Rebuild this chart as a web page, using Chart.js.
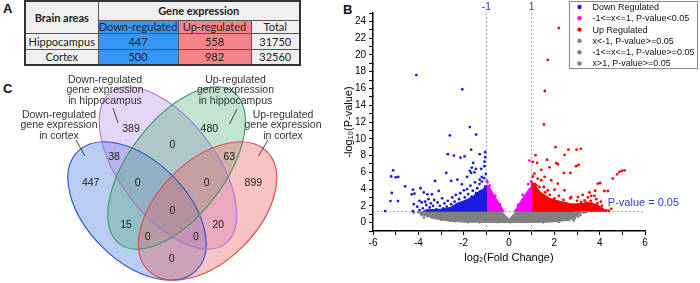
<!DOCTYPE html>
<html>
<head>
<meta charset="utf-8">
<script src="https://cdn.jsdelivr.net/npm/chart.js@4.4.1/dist/chart.umd.min.js"></script>
<style>
  html, body { margin:0; padding:0; background:#ffffff; }
  body { width:700px; height:283px; position:relative; overflow:hidden; font-family:'Liberation Sans', Arial, sans-serif; }
  .plabel { position:absolute; font-weight:bold; font-size:13px; color:#111; line-height:13px; }
  #tableA { position:absolute; left:24px; top:0px; width:275px; height:64px; border-collapse:collapse; table-layout:fixed;
            font-family:Lato,'Open Sans',sans-serif; font-size:11px; color:#222; border:2px solid #333; }
  #tableA td { border:1px solid #555; text-align:center; vertical-align:middle; padding:0; background:#efefef;
               line-height:11px; white-space:nowrap; overflow:hidden; }
  #tableA td.hd { font-weight:bold; }
  #tableA td.down { background:#3797f5; }
  #tableA td.up { background:#f48587; }
  #wrapB { position:absolute; left:330px; top:0; width:370px; height:283px; }
  #wrapC { position:absolute; left:0; top:66px; width:330px; height:217px; }
</style>
</head>
<body>
<div class="plabel" style="left:3px;top:2px;">A</div>
<div class="plabel" style="left:343px;top:3px;">B</div>
<div class="plabel" style="left:3px;top:82px;">C</div>
<table id="tableA"></table>
<div id="wrapC"><canvas id="venn" width="330" height="217"></canvas></div>
<div id="wrapB"><canvas id="volcano" width="370" height="283"></canvas></div>
<script>
// ================= DATA =================
// ---- Panel A (table) ----
const tableHeaders = ['Brain areas', 'Gene expression', 'Down-regulated', 'Up-regulated', 'Total'];
const brainAreas = ['Hippocampus', 'Cortex'];
const downRegulatedCounts = [447, 500];
const upRegulatedCounts = [558, 982];
const totalGeneCounts = [31750, 32560];

// ---- Panel B (volcano) ----
const xTickLabels = [-6, -4, -2, 0, 2, 4, 6];
const yTickLabels = [0, 2, 4, 6, 8, 10, 12, 14, 16, 18, 20, 22, 24];
const foldChangeThresholds = [-1, 1];
const pValueThreshold = 1.3;          // -log10(0.05)
const pValueLabel = 'P-value = 0.05';

const legendLabels = ['Down Regulated', '-1<=x<=1, P-value<0.05', 'Up Regulated',
                      'x<-1, P-value>=0.05', '-1<=x<=1, P-value>=0.05', 'x>1, P-value>=0.05'];

const downRegulatedPoints = [
  [-4.09,17.6],[-2.06,15.9],[-1.73,11.4],[-2.61,10.4],[-1.45,10.5],[-1.67,8.7],
  [-2.70,8.16],[-2.43,8.0],[-2.14,7.76],[-1.96,7.9],[-1.29,8.16],[-1.05,8.4],[-1.05,7.8],
  [-5.11,6.24],[-5.2,5.5],[-5.0,5.4],[-4.89,5.45],[-5.17,3.53],[-5.23,2.57],[-4.9,2.57],[-5.46,1.38],
  [-4.58,4.33],[-4.23,3.93],[-4.17,3.45],[-4.29,3.37],[-3.9,4.1],[-3.76,3.6],[-3.6,3.37],[-3.4,3.37],
  [-3.26,4.97],[-3.1,3.78],[-2.77,5.93],[-2.55,4.97],[-2.28,5.13],[-2.08,4.57],[-1.99,3.85],[-1.85,5.45],
  [-1.73,6.16],[-1.64,6.56],[-1.58,7.12],[-1.67,5.93],[-1.52,6.0],[-1.46,6.4],[-1.23,6.4],[-1.2,5.45],
  [-1.29,5.13],[-1.08,7.28],[-1.08,6.72],
  [-4.2,2.2],[-4.05,1.9],[-3.95,2.6],[-3.85,2.4],[-3.8,1.7],[-3.7,2.5],[-3.65,2.1],[-3.55,2.8],[-3.5,1.8],
  [-3.45,2.3],[-3.35,2.0],[-3.3,2.7],[-3.2,1.6],[-3.15,2.4],[-3.05,2.0],[-2.95,2.9],[-2.9,1.7],[-2.85,2.3],
  [-2.75,1.9],[-2.7,2.6],[-2.6,1.6],[-2.55,2.2],[-2.5,3.0],[-2.45,1.8],[-2.4,2.5],[-2.35,3.3],[-2.3,2.0],
  [-2.25,1.6],[-2.2,2.8],[-2.15,3.5],[-2.1,2.2],[-2.05,1.8],[-1.95,3.0],[-1.9,2.5],[-1.85,4.0],[-1.8,3.4],
  [-1.75,2.1],[-1.7,4.4],[-1.65,3.1],[-1.6,3.8],[-1.55,2.6],[-1.5,4.8],[-1.45,3.5],[-1.4,4.1],[-1.35,2.9],
  [-1.3,4.6],[-1.25,3.7],[-1.2,4.9],[-1.15,3.2],[-1.1,5.3],[-1.05,4.3],[-1.02,5.8],
  [-4.24,1.38],[-3.95,1.5],[-3.6,1.45]
];
const midSignificantPoints = [
  [0.9,7.4],[-0.98,5.0],[-0.95,4.8],[0.97,4.9],[0.85,4.6],[-0.85,4.4],[0.6,3.3],[-0.6,3.2],[-0.9,3.9],[0.4,2.1],[-0.4,2.2]
];
const upRegulatedPoints = [
  [2.2,23.2],[1.71,19.4],[1.58,15.7],[1.54,11.7],[2.05,9.0],[2.62,8.7],[2.98,8.7],[3.17,8.8],
  [1.17,8.04],[1.05,7.25],[1.24,7.12],[1.68,7.5],[2.08,7.1],[2.15,6.96],[2.45,8.08],[2.96,6.72],[3.07,6.88],
  [1.42,6.3],[1.79,6.6],[2.42,5.93],[2.71,5.93],[4.87,6.04],[4.98,6.16],[5.1,6.24],[4.77,5.76],[4.58,5.25],
  [3.92,4.65],[4.02,4.73],[4.21,3.77],[4.36,3.77],[3.8,3.8],[3.63,3.2],[3.77,3.2],[3.48,3.0],[4.51,1.65],
  [4.29,1.45],[4.0,1.65],
  [1.12,5.85],[1.27,5.25],[1.42,5.05],[1.57,5.45],[1.86,5.05],[2.15,4.65],[2.01,3.93],[1.71,3.85],[1.34,4.25],
  [1.2,4.45],[1.54,4.25],[2.45,3.85],[2.74,3.05],[3.04,3.05],[3.33,2.65],[3.18,2.45],
  [2.3,2.0],[2.5,2.3],[2.6,1.7],[2.8,2.1],[2.9,1.6],[3.0,2.6],[3.1,1.9],[3.2,2.2],[3.3,1.7],[3.4,2.4],
  [3.5,1.9],[3.6,2.6],[3.7,2.2],[3.75,1.8],[3.85,2.8],[3.9,2.3],[4.05,2.5],[4.1,2.0],[4.15,1.5],[4.4,1.4],
  [2.0,2.9],[1.8,3.3],[1.6,3.6],[1.9,2.4],[2.2,3.2],[2.4,2.7],[1.3,3.7],[1.15,4.6],[1.05,5.5],[1.1,3.0],
  [1.4,2.8],[1.7,2.2],[2.1,1.6],[2.7,2.9],[3.25,3.3],[3.55,3.6],[3.45,1.5]
];
const nonSigLeftPoints = [
  [-4.2,1.2],[-4.0,1.25],[-3.9,1.1],[-3.85,0.9],[-3.75,0.6],[-3.7,1.2],[-3.6,0.8],[-3.5,1.0],[-3.4,0.6],
  [-3.3,1.1],[-3.2,0.5],[-3.1,0.9],[-3.0,0.35],[-2.9,0.7],[-2.8,1.0],[-2.7,0.4],[-2.6,0.25],[-2.5,0.8],
  [-2.4,0.15],[-1.8,0.05],[-1.3,0.03]
];
const nonSigMidPoints = [
  [-0.8,0.1],[-0.5,0.05],[-0.2,0.3],[0.05,0.05],[0.2,0.3],[0.5,0.08],[0.8,0.1]
];
const nonSigRightPoints = [
  [2.6,0.3],[2.7,0.6],[2.75,1.1],[2.8,0.9],[2.85,0.25],[2.9,0.5],[2.95,1.2],[3.0,1.0],[3.05,0.7],
  [3.1,1.2],[3.15,0.9],[3.2,1.25],[3.3,1.2],[3.4,1.25],[1.5,0.03],[2.2,0.1]
];
// outlines of the densely packed point clouds
const downCloudOutline = [[-1,1.3],[-1,4.4],[-1.15,4.0],[-1.35,3.7],[-1.6,3.1],[-1.9,2.7],[-2.3,2.3],[-2.6,1.8],
  [-3.0,1.6],[-3.4,1.55],[-3.7,1.5],[-3.8,1.3]];
const midLeftCloudOutline = [[-1,1.3],[-1,4.5],[-0.9,4.4],[-0.7,3.5],[-0.5,2.6],[-0.32,1.8],[-0.2,1.3]];
const midRightCloudOutline = [[0.22,1.3],[0.35,1.8],[0.5,2.5],[0.7,3.3],[0.9,4.1],[1,4.3],[1,1.3]];
const upCloudOutline = [[1,1.3],[1,5.0],[1.15,4.4],[1.4,3.6],[1.8,2.9],[2.3,2.5],[2.8,2.2],[3.2,2.3],[3.6,2.4],
  [3.9,2.1],[4.2,1.6],[4.3,1.3]];
const nonSigCloudOutline = [[-3.9,1.3],[-0.3,1.3],[-0.15,0.85],[0,0.4],[0.15,0.85],[0.3,1.3],[3.2,1.3],[3.0,0.8],
  [2.7,0.3],[2.0,0.08],[1.0,0.02],[-1.0,0.02],[-2.0,0.06],[-2.7,0.2],[-3.3,0.5],[-3.9,1.0]];

// ---- Panel C (Venn) ----
const vennSetNames = [
  ['Down-regulated', 'gene expression', 'in cortex'],
  ['Down-regulated', 'gene expression', 'in hippocampus'],
  ['Up-regulated', 'gene expression', 'in hippocampus'],
  ['Up-regulated', 'gene expression', 'in cortex']
];
const vennRegionCounts = [389, 480, 0, 38, 63, 447, 0, 0, 899, 0, 15, 20, 0, 0, 0];

// ================= LAYOUT / STYLE =================
const FONT = "'Liberation Sans', Arial, sans-serif";
Chart.defaults.font.family = FONT;

// ---- Table ----
(function buildTable() {
  const t = document.getElementById('tableA');
  const colW = [73, 80, 73, 49];
  let html = '<colgroup>' + colW.map(w => `<col style="width:${w}px">`).join('') + '</colgroup>';
  html += `<tr style="height:19px"><td class="hd" rowspan="2">${tableHeaders[0]}</td><td class="hd" colspan="3">${tableHeaders[1]}</td></tr>`;
  html += `<tr style="height:13px"><td class="down">${tableHeaders[2]}</td><td class="up">${tableHeaders[3]}</td><td>${tableHeaders[4]}</td></tr>`;
  brainAreas.forEach((b, i) => {
    html += `<tr style="height:16px"><td>${b}</td><td class="down">${downRegulatedCounts[i]}</td><td class="up">${upRegulatedCounts[i]}</td><td>${totalGeneCounts[i]}</td></tr>`;
  });
  t.innerHTML = html;
})();

// ---- Volcano ----
const toXY = arr => arr.map(([x, y]) => ({x, y}));
const C_BLUE = 'rgb(28,28,222)', C_MAG = 'rgb(255,0,255)', C_RED = 'rgb(250,0,0)', C_GRAY = 'rgb(128,128,128)';
const LINE_C = '#97a3e6';

function pts(label, data, color) {
  return { type: 'scatter', label, data: toXY(data), backgroundColor: color, borderColor: color,
           pointRadius: 1.4, pointBorderWidth: 0, pointHoverRadius: 0, inLegend: true };
}
function cloud(data, color) {
  return { type: 'line', data: toXY(data), backgroundColor: color, borderColor: color, borderWidth: 1,
           fill: 'shape', pointRadius: 0, tension: 0, inLegend: false };
}
function refLine(data) {
  return { type: 'line', data: toXY(data), borderColor: LINE_C, borderWidth: 1, borderDash: [2, 2],
           fill: false, pointRadius: 0, inLegend: false };
}

const volcanoDecor = {
  id: 'volcanoDecor',
  afterDraw(chart) {
    const {ctx, chartArea, scales: {x, y}} = chart;
    ctx.save();
    ctx.fillStyle = '#2b3ed6';
    ctx.font = '11px ' + FONT;
    ctx.textAlign = 'center'; ctx.textBaseline = 'middle';
    foldChangeThresholds.forEach(v => ctx.fillText(String(v), x.getPixelForValue(v), chartArea.top - 6));
    ctx.textAlign = 'left';
    ctx.fillText(pValueLabel, x.getPixelForValue(4.36), y.getPixelForValue(2.4));
    // legend box
    const items = chart.data.datasets.filter(d => d.inLegend);
    const bx = chartArea.right - 76, by = 1, bw = 129, bh = 67;
    ctx.fillStyle = '#ffffff'; ctx.fillRect(bx, by, bw, bh);
    ctx.strokeStyle = '#8a8a8a'; ctx.lineWidth = 1; ctx.strokeRect(bx + 0.5, by + 0.5, bw - 1, bh);
    ctx.font = '9px ' + FONT;
    items.forEach((d, i) => {
      const cy = by + 6 + i * 11.3;
      ctx.fillStyle = d.backgroundColor;
      ctx.beginPath(); ctx.arc(bx + 10.5, cy, 2.2, 0, Math.PI * 2); ctx.fill();
      ctx.fillStyle = '#111';
      ctx.fillText(d.label, bx + 23.5, cy + 0.5);
    });
    ctx.restore();
  }
};

new Chart(document.getElementById('volcano'), {
  type: 'scatter',
  data: {
    datasets: [
      pts(legendLabels[0], downRegulatedPoints, C_BLUE),
      pts(legendLabels[1], midSignificantPoints, C_MAG),
      pts(legendLabels[2], upRegulatedPoints, C_RED),
      pts(legendLabels[3], nonSigLeftPoints, C_GRAY),
      pts(legendLabels[4], nonSigMidPoints, C_GRAY),
      pts(legendLabels[5], nonSigRightPoints, C_GRAY),
      cloud(downCloudOutline, C_BLUE),
      cloud(midLeftCloudOutline, C_MAG),
      cloud(midRightCloudOutline, C_MAG),
      cloud(upCloudOutline, C_RED),
      cloud(nonSigCloudOutline, C_GRAY),
      refLine([[foldChangeThresholds[0], -1], [foldChangeThresholds[0], 25]]),
      refLine([[foldChangeThresholds[1], -1], [foldChangeThresholds[1], 25]]),
      refLine([[-6, pValueThreshold], [6, pValueThreshold]])
    ]
  },
  options: {
    responsive: false, animation: false, events: [],
    layout: { padding: { left: 0, right: 55, top: 13, bottom: 0 } },
    plugins: { legend: { display: false }, tooltip: { enabled: false } },
    scales: {
      x: {
        type: 'linear', min: -6, max: 6,
        ticks: { stepSize: 1, autoSkip: false, maxRotation: 0, padding: 2, color: '#000', font: { size: 10 },
                 callback: v => xTickLabels.includes(v) ? String(v) : '' },
        grid: { display: true, drawOnChartArea: false, drawTicks: true, tickLength: 4, color: '#000', lineWidth: 1 },
        border: { display: true, color: '#000', width: 1.5 },
        title: { display: true, text: 'log₂(Fold Change)', color: '#000', font: { size: 11 }, padding: { top: 0, bottom: 18 } },
        afterFit: s => { s.height = 52; }
      },
      y: {
        type: 'linear', min: -1, max: 25,
        ticks: { stepSize: 1, autoSkip: false, padding: 3, color: '#000', font: { size: 10 },
                 callback: v => yTickLabels.includes(v) ? String(v) : '' },
        grid: { display: true, drawOnChartArea: false, drawTicks: true, tickLength: 4, color: '#000', lineWidth: 1 },
        border: { display: true, color: '#000', width: 1.5 },
        title: { display: true, text: '-log₁₀(P-value)', color: '#000', font: { size: 11 }, padding: { top: 12, bottom: 0 } },
        afterFit: s => { s.width = 43; }
      }
    }
  },
  plugins: [volcanoDecor]
});

// ---- Venn ----
// region label anchor positions (page pixel space of the venn scales)
const vennLabelAnchors = [[131,129.3],[209.3,129.3],[172.3,145],[114,156.7],[229.3,156.7],[90.7,182.7],
  [137.7,182.7],[206.7,182.7],[253.3,182.7],[172.3,210.7],[126,225],[218.3,225],[147.7,236.7],[196,236.7],[171.7,259]];
const vennEllipses = [
  { cx: 137,   cy: 211, a: 84, b: 50, rot:  45, fill: 'rgba(70,120,220,0.38)',  stroke: '#2d55c8' },
  { cx: 168,   cy: 168, a: 95, b: 48, rot:  53, fill: 'rgba(175,130,230,0.33)', stroke: '#a678d8' },
  { cx: 176.6, cy: 168, a: 95, b: 48, rot: -53, fill: 'rgba(70,170,110,0.33)',  stroke: '#3c9a66' },
  { cx: 207.6, cy: 211, a: 84, b: 50, rot: -45, fill: 'rgba(235,90,90,0.36)',   stroke: '#e04848' }
];
const vennNameLayout = [
  { x: 59,    y: 115, lead: [[76,140],[85,156]] },
  { x: 105,   y: 80,  lead: [[113,108],[118,123]] },
  { x: 235.5, y: 80,  lead: [[237,109],[229.5,124]] },
  { x: 283,   y: 115, lead: [[268,140],[258.5,156]] }
];

const vennPlugin = {
  id: 'vennPlugin',
  beforeDatasetsDraw(chart) {
    const {ctx, scales: {x, y}} = chart;
    ctx.save();
    const sx = Math.abs(x.getPixelForValue(1) - x.getPixelForValue(0));
    const sy = Math.abs(y.getPixelForValue(81) - y.getPixelForValue(80));
    vennEllipses.forEach(e => {
      ctx.beginPath();
      ctx.ellipse(x.getPixelForValue(e.cx), y.getPixelForValue(e.cy), e.a * sx, e.b * sy, e.rot * Math.PI / 180, 0, Math.PI * 2);
      ctx.fillStyle = e.fill; ctx.fill();
    });
    vennEllipses.forEach(e => {
      ctx.beginPath();
      ctx.ellipse(x.getPixelForValue(e.cx), y.getPixelForValue(e.cy), e.a * sx, e.b * sy, e.rot * Math.PI / 180, 0, Math.PI * 2);
      ctx.strokeStyle = e.stroke; ctx.lineWidth = 1.1; ctx.stroke();
    });
    ctx.restore();
  },
  afterDatasetsDraw(chart) {
    const {ctx, scales: {x, y}} = chart;
    const meta = chart.getDatasetMeta(0);
    const counts = chart.data.datasets[0].counts;
    ctx.save();
    ctx.fillStyle = '#222';
    ctx.font = '10.5px ' + FONT;
    ctx.textAlign = 'center'; ctx.textBaseline = 'middle';
    meta.data.forEach((pt, i) => ctx.fillText(String(counts[i]), pt.x, pt.y));
    // set names + leader lines
    ctx.fillStyle = '#333';
    vennSetNames.forEach((lines, i) => {
      const L = vennNameLayout[i];
      lines.forEach((t, j) => ctx.fillText(t, x.getPixelForValue(L.x), y.getPixelForValue(L.y + j * 10.4)));
      ctx.beginPath();
      ctx.moveTo(x.getPixelForValue(L.lead[0][0]), y.getPixelForValue(L.lead[0][1]));
      ctx.lineTo(x.getPixelForValue(L.lead[1][0]), y.getPixelForValue(L.lead[1][1]));
      ctx.strokeStyle = '#333'; ctx.lineWidth = 0.9; ctx.stroke();
    });
    ctx.restore();
  }
};

new Chart(document.getElementById('venn'), {
  type: 'scatter',
  data: { datasets: [{ data: toXY(vennLabelAnchors), counts: vennRegionCounts, pointRadius: 0 }] },
  options: {
    responsive: false, animation: false, events: [],
    layout: { padding: 0 },
    plugins: { legend: { display: false }, tooltip: { enabled: false } },
    scales: {
      x: { display: false, min: 0, max: 330 },
      y: { display: false, min: 66, max: 283, reverse: true }
    }
  },
  plugins: [vennPlugin]
});
</script>
</body>
</html>
